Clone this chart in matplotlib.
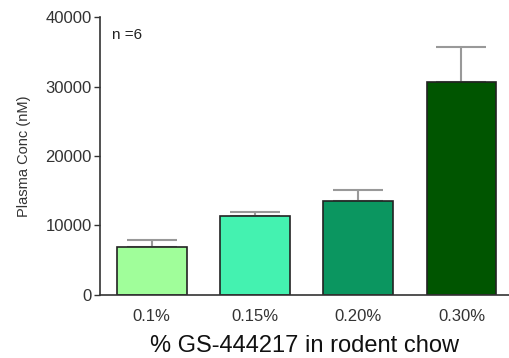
import matplotlib
matplotlib.use("Agg")
import matplotlib.pyplot as plt

categories = ["0.1%", "0.15%", "0.20%", "0.30%"]
means = [6900, 11350, 13500, 30600]
sem = [1000, 600, 1600, 5150]
colors = ["#a0fe9a", "#44f2b0", "#0b9660", "#005500"]

plt.rcParams['font.family'] = ['Liberation Sans', 'DejaVu Sans']

fig = plt.figure(figsize=(5.09, 3.58), dpi=100)
ax = fig.add_axes([0.1965, 0.176, 0.8035, 0.7765])

x = list(range(len(categories)))
ax.bar(x, means, width=0.675, color=colors, edgecolor="#222222", linewidth=1.2, zorder=2)
ax.errorbar(x, means, yerr=[[0]*len(sem), sem], fmt="none", ecolor="#999999",
            elinewidth=1.5, capsize=18, capthick=1.5, zorder=1)

ax.set_xlim(-0.5, 3.46)
ax.set_ylim(0, 40000)
ax.set_yticks([0, 10000, 20000, 30000, 40000])
ax.set_xticks(x)
ax.set_xticklabels(categories, fontsize=12, color="#333333")
ax.tick_params(axis="x", length=0, pad=10)
ax.tick_params(axis="y", length=4, width=1, labelsize=12, colors="#333333", labelcolor="#333333", pad=2)
for s in ["top", "right"]:
    ax.spines[s].set_visible(False)
for s in ["left", "bottom"]:
    ax.spines[s].set_color("#333333")
    ax.spines[s].set_linewidth(1.2)

ax.set_ylabel("Plasma Conc (nM)", fontsize=10.5, color="#333333", labelpad=10)
ax.set_xlabel("% GS-444217 in rodent chow", fontsize=17, color="#111111", labelpad=8)
ax.text(0.03, 0.935, "n =6", transform=ax.transAxes, fontsize=11, color="#222222", va="center", ha="left")

fig.savefig("out.png", dpi=100)
